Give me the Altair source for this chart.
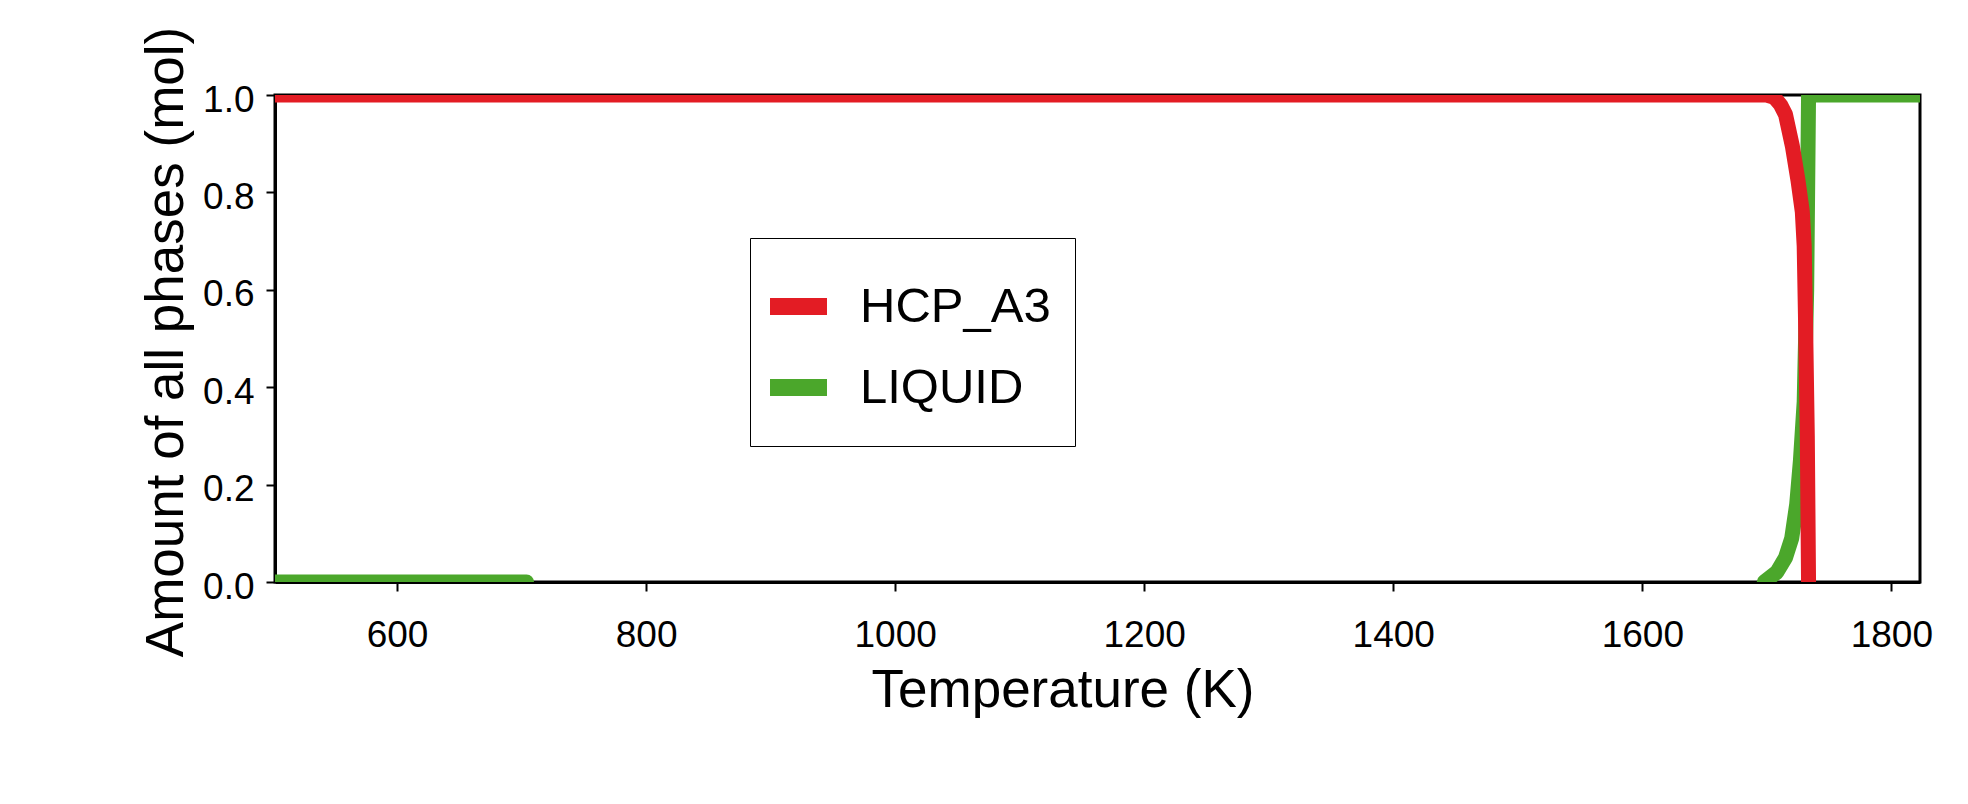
import altair as alt
import pandas as pd

# ---- data ----
phases = ["HCP_A3", "LIQUID"]
colors = ["#e31c24", "#4ba72b"]

hcp_T = [500, 1700, 1706, 1711, 1715, 1720.5, 1725, 1728.5, 1730, 1731, 1732.5, 1733.5]
hcp_amt = [1.0, 1.0, 0.995, 0.98, 0.96, 0.895, 0.825, 0.76, 0.69, 0.55, 0.3, 0.0]

liq_low_T = [500, 704]
liq_low_amt = [0.0, 0.0]

liq_high_T = [1698, 1708, 1715, 1720, 1724, 1727, 1730, 1732, 1733.5, 1830]
liq_high_amt = [0.0, 0.02, 0.05, 0.09, 0.16, 0.25, 0.37, 0.6, 1.0, 1.0]

x_ticks = [600, 800, 1000, 1200, 1400, 1600, 1800]
y_ticks = [0.0, 0.2, 0.4, 0.6, 0.8, 1.0]

# ---- tables ----
hcp_df = pd.DataFrame({"T": hcp_T, "amt": hcp_amt, "phase": "HCP_A3", "seg": "h", "i": range(len(hcp_T))})
liq_df = pd.concat([
    pd.DataFrame({"T": liq_low_T, "amt": liq_low_amt, "phase": "LIQUID", "seg": "l1", "i": range(len(liq_low_T))}),
    pd.DataFrame({"T": liq_high_T, "amt": liq_high_amt, "phase": "LIQUID", "seg": "l2", "i": range(len(liq_high_T))}),
])

FONT = "Liberation Sans"

x_enc = alt.X("T:Q", scale=alt.Scale(domain=[502, 1823], nice=False, zero=False),
              axis=alt.Axis(values=x_ticks, title="Temperature (K)", format="d",
                            titleX=787.5, titleY=124, titleBaseline="alphabetic",
                            titleAlign="center", titleAnchor="start"))
y_enc = alt.Y("amt:Q", scale=alt.Scale(domain=[0, 1], nice=False, zero=False),
              axis=alt.Axis(values=y_ticks, title="Amount of all phases (mol)", format=".1f",
                            titleX=-93, titleY=246.5, titleAngle=270, titleBaseline="alphabetic",
                            titleAlign="center", titleAnchor="start", labelOffset=5))

color_enc = alt.Color("phase:N",
                      scale=alt.Scale(domain=phases, range=colors),
                      legend=alt.Legend(orient="none", legendX=475, legendY=143, title=" ",
                                        titleFontSize=2, titlePadding=18,
                                        strokeColor="black", fillColor="white", padding=24,
                                        symbolType="M-2,0H2", symbolSize=812, symbolStrokeWidth=17,
                                        labelFontSize=49, labelFont=FONT, labelColor="black",
                                        labelLimit=500,
                                        labelOffset=37, rowPadding=12, symbolOffset=0))

liq = alt.Chart(liq_df).mark_line(strokeWidth=15, strokeCap="round", strokeJoin="round", clip=True).encode(
    x=x_enc, y=y_enc, color=color_enc, detail="seg:N", order="i:Q")
hcp = alt.Chart(hcp_df).mark_line(strokeWidth=15, strokeCap="round", strokeJoin="round", clip=True).encode(
    x=x_enc, y=y_enc, color=color_enc, detail="seg:N", order="i:Q")

chart = alt.layer(liq, hcp).properties(
    width=1645, height=487,
    autosize=alt.AutoSizeParams(type="none"),
    padding={"left": 267, "top": 87, "right": 40, "bottom": 200},
).configure_view(
    stroke="black", strokeWidth=3
).configure_axis(
    domainColor="black", domainWidth=3, tickColor="black", tickWidth=2, tickSize=9,
    labelFont=FONT, labelFontSize=37, labelColor="black",
    titleFont=FONT, titleFontSize=53, titleColor="black", titleFontWeight="normal",
    grid=False
).configure_axisX(labelPadding=26).configure_axisY(labelPadding=12)

chart.save("out.html", embed_options={"renderer": "svg", "actions": False})
